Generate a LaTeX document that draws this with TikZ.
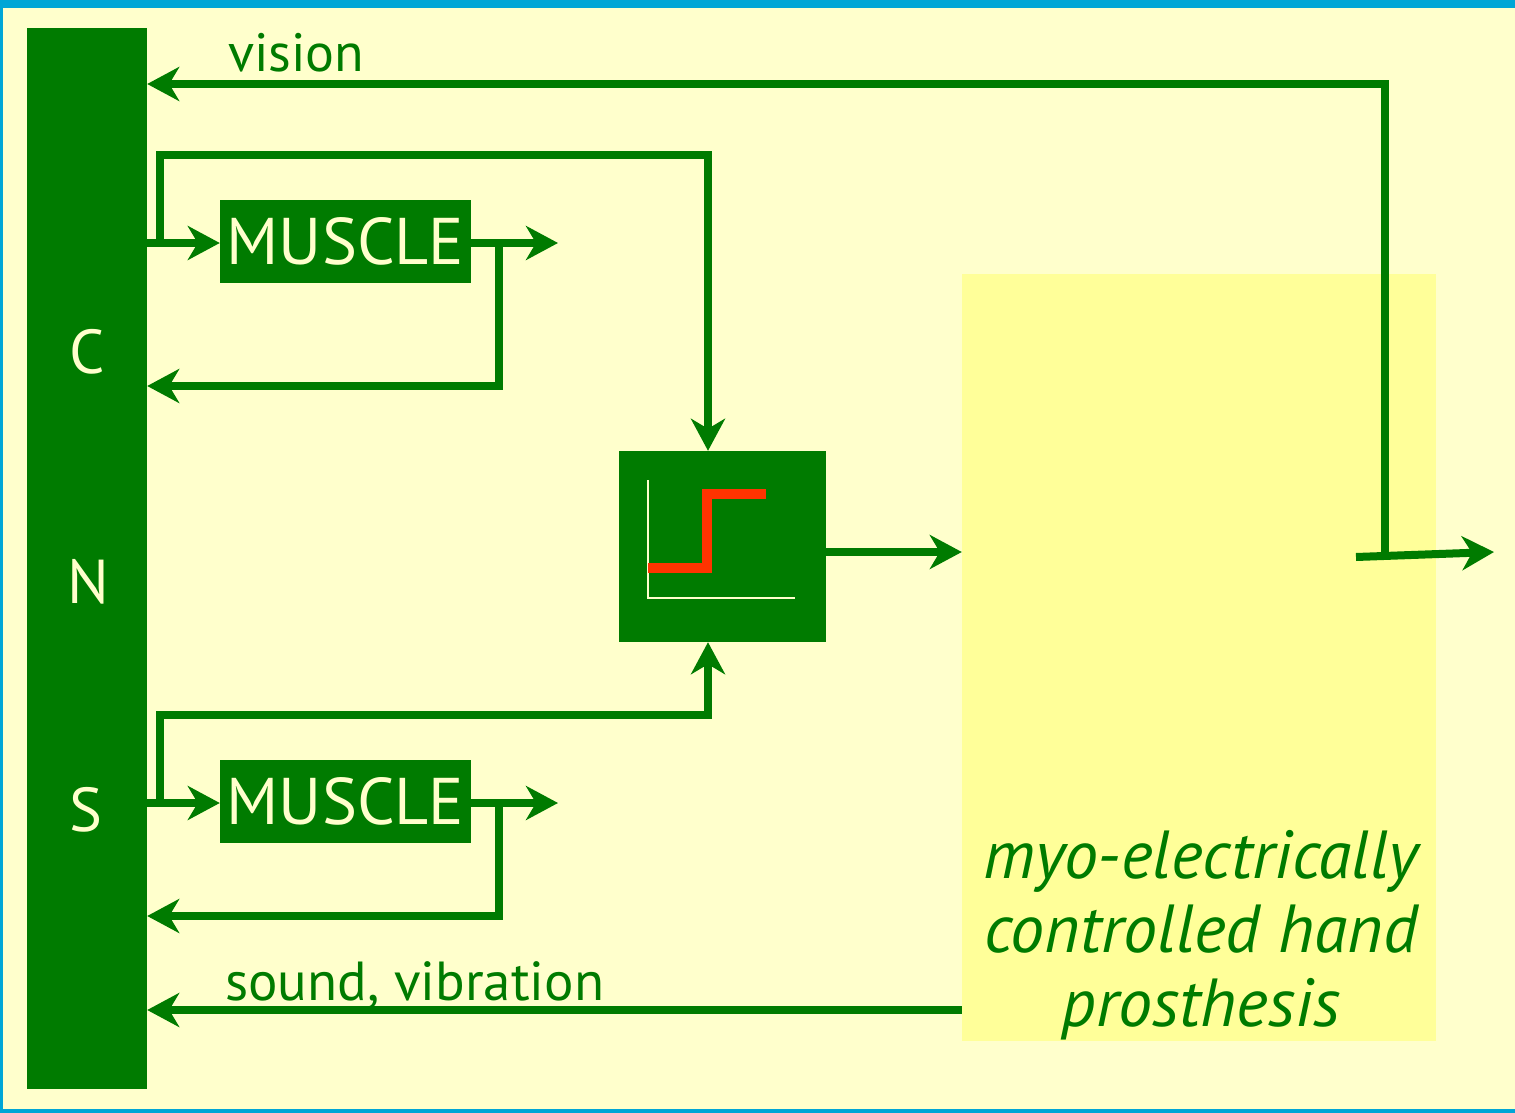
\documentclass[tikz,border=0pt]{standalone}
\usepackage{fontspec}
\setmainfont{PT Sans}
\usetikzlibrary{arrows.meta}
\definecolor{bg}{HTML}{FFFFCC}
\definecolor{frame}{HTML}{00A6D6}
\definecolor{dgreen}{HTML}{007B00}
\definecolor{hand}{HTML}{FFFF99}
\definecolor{stepred}{HTML}{FF3300}
\begin{document}
\begin{tikzpicture}[x=1pt,y=-1pt,
  conn/.style={draw=dgreen,line width=8pt,-{Stealth[length=32pt,width=34pt,inset=10pt]}},
  musclebox/.style={fill=dgreen,minimum width=251pt,minimum height=83pt,inner sep=0pt,
    text=bg,font=\fontsize{66}{70}\selectfont},
  letter/.style={text=bg,font=\fontsize{62}{66}\selectfont,inner sep=0pt},
  lbl/.style={text=dgreen,font=\fontsize{54}{58}\selectfont,inner sep=0pt},
]
\fill[frame] (0,0) rectangle (1515,1113);
\fill[bg] (3,8) rectangle (1515,1109);
\useasboundingbox (0,0) rectangle (1515,1113);

% hand region
\node[fill=hand,minimum width=474pt,minimum height=767pt,inner sep=0pt] (hand) at (1199,657.5) {};
\node[text=dgreen,align=center,font=\itshape\fontsize{68}{74}\selectfont,inner sep=0pt,anchor=base] (htxt) at (1201,1026) {myo-electrically\\controlled hand\\prosthesis};

% CNS bar
\node[fill=dgreen,minimum width=120pt,minimum height=1061pt,inner sep=0pt] (cns) at (87,558.5) {};
\node[letter] (lc) at (87,352) {C};
\node[letter] (ln) at (88,582) {N};
\node[letter] (ls) at (86,810) {S};

% muscle boxes
\node[musclebox] (m1) at (345.5,241.5) {MUSCLE};
\node[musclebox] (m2) at (345.5,801.5) {MUSCLE};

% step box
\node[fill=dgreen,minimum width=207pt,minimum height=191pt,inner sep=0pt] (sb) at (722.5,546.5) {};
\draw[bg,line width=2.5pt] (648,480) -- (648,598) -- (795,598);
\draw[stepred,line width=10pt] (648,568) -- (707,568) -- (707,494) -- (766,494);

% labels
\node[lbl,anchor=base west] (vis) at (228,72) {vision};
\node[lbl,font=\fontsize{55}{58}\selectfont,anchor=base west] (snd) at (225,1000) {sound, vibration};

% vision loop
\coordinate (vt) at (1385,553);
\coordinate (vc) at (1385,84);
\draw[conn] (vt) -- (vc) -- (vc -| cns.east);
\coordinate (os) at (1356,557);
\coordinate (oe) at (1494,552);
\draw[conn] (os) -- (oe);

% upper muscle
\coordinate (a1) at (147,243);
\draw[conn] (a1) -- (m1.west |- a1);
\coordinate (b1) at (160,243);
\coordinate (t1) at (160,155);
\coordinate (t2) at (708,155);
\draw[conn] (b1) -- (t1) -- (t2) -- (t2 |- sb.north);
\coordinate (o1) at (558,243);
\draw[conn] (m1.east |- o1) -- (o1);
\coordinate (f1) at (499,243);
\coordinate (f1b) at (499,386);
\draw[conn] (f1) -- (f1b) -- (f1b -| cns.east);

% lower muscle
\coordinate (a2) at (147,803);
\draw[conn] (a2) -- (m2.west |- a2);
\coordinate (b2) at (160,803);
\coordinate (t3) at (160,715);
\coordinate (t4) at (708,715);
\draw[conn] (b2) -- (t3) -- (t4) -- (t4 |- sb.south);
\coordinate (o2) at (558,803);
\draw[conn] (m2.east |- o2) -- (o2);
\coordinate (f2) at (499,803);
\coordinate (f2b) at (499,916);
\draw[conn] (f2) -- (f2b) -- (f2b -| cns.east);

% step -> hand
\coordinate (sy) at (0,552);
\draw[conn] (sb.east |- sy) -- (hand.west |- sy);

% sound
\coordinate (sd) at (0,1010);
\draw[conn] (hand.west |- sd) -- (cns.east |- sd);
\end{tikzpicture}
\end{document}
